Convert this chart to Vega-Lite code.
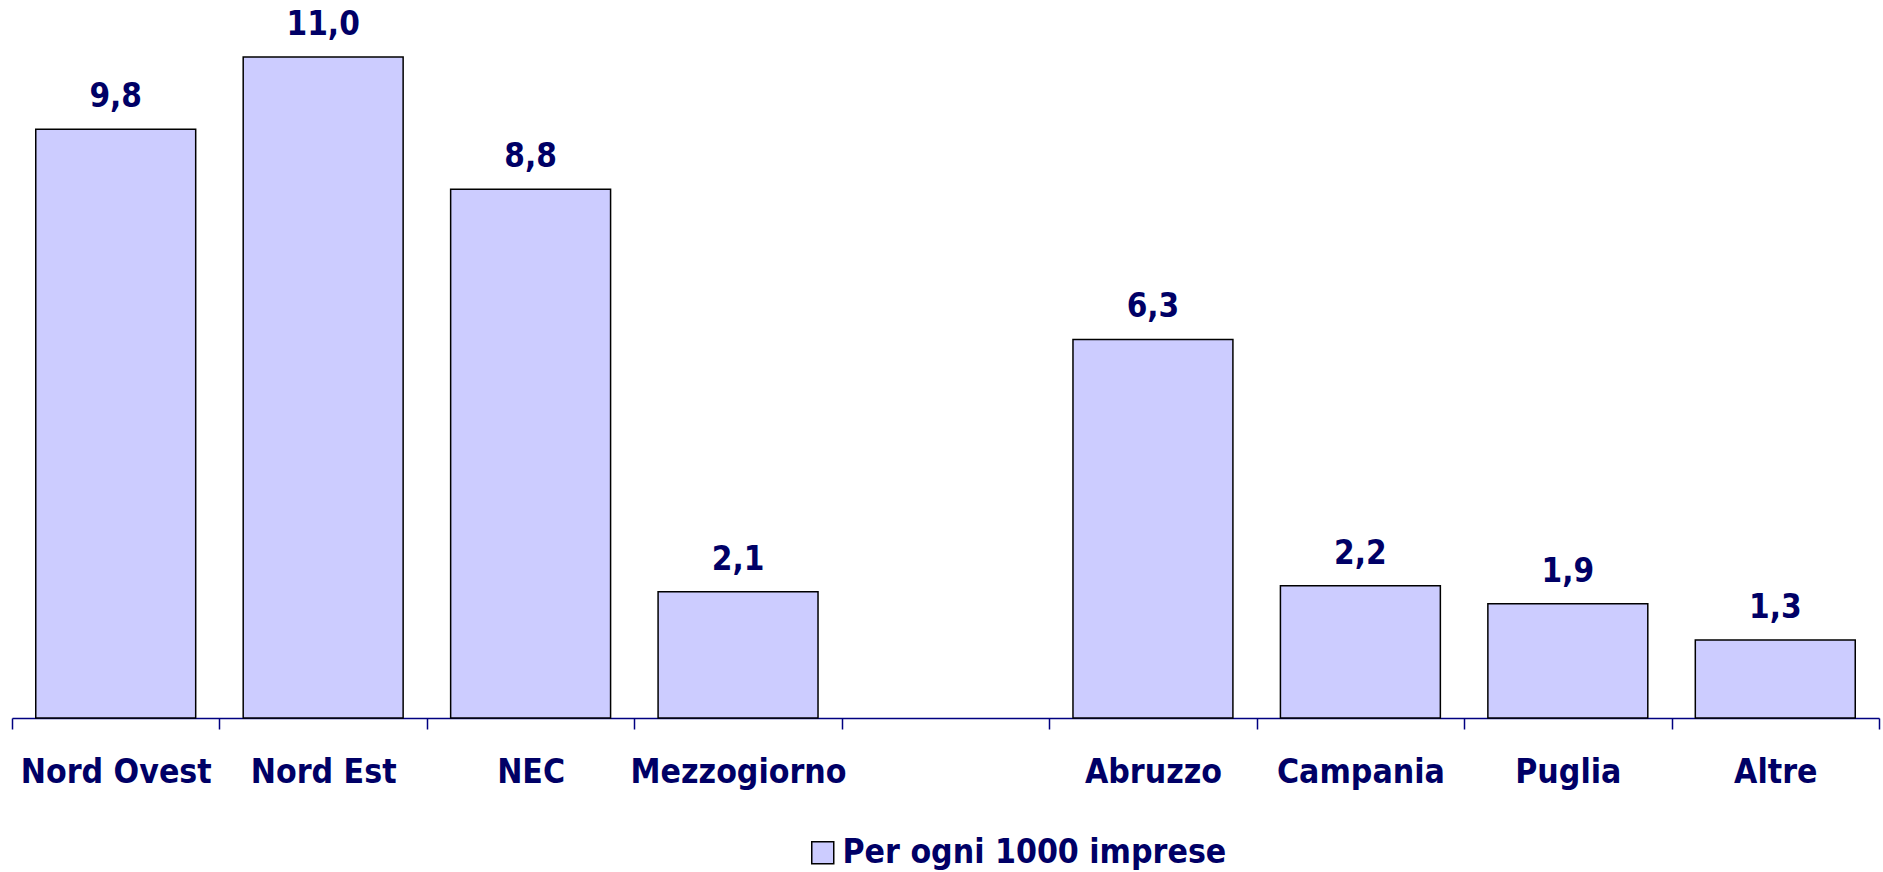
{
  "$schema": "https://vega.github.io/schema/vega-lite/v6.json",
  "width": 1867,
  "height": 718,
  "autosize": {"type": "none"},
  "padding": {"left": 12, "top": 0, "right": 4, "bottom": 154},
  "background": "white",
  "config": {
    "view": {"stroke": null},
    "locale": {"number": {"decimal": ",", "thousands": ".", "grouping": [3], "currency": ["", " €"]}},
    "font": "DejaVu Sans Condensed"
  },
  "data": {
    "values": [
      {"area": "Nord Ovest", "valore": 9.8, "serie": "Per ogni 1000 imprese"},
      {"area": "Nord Est", "valore": 11.0, "serie": "Per ogni 1000 imprese"},
      {"area": "NEC", "valore": 8.8, "serie": "Per ogni 1000 imprese"},
      {"area": "Mezzogiorno", "valore": 2.1, "serie": "Per ogni 1000 imprese"},
      {"area": "Abruzzo", "valore": 6.3, "serie": "Per ogni 1000 imprese"},
      {"area": "Campania", "valore": 2.2, "serie": "Per ogni 1000 imprese"},
      {"area": "Puglia", "valore": 1.9, "serie": "Per ogni 1000 imprese"},
      {"area": "Altre", "valore": 1.3, "serie": "Per ogni 1000 imprese"}
    ]
  },
  "encoding": {
    "x": {
      "field": "area",
      "type": "nominal",
      "sort": null,
      "scale": {
        "domain": ["Nord Ovest", "Nord Est", "NEC", "Mezzogiorno", " ", "Abruzzo", "Campania", "Puglia", "Altre"],
        "paddingInner": 0,
        "paddingOuter": 0
      },
      "axis": {
        "title": null,
        "labelAngle": 0,
        "labelFont": "DejaVu Sans Condensed",
        "labelFontSize": 33.5,
        "labelFontWeight": "bold",
        "labelColor": "#000066",
        "labelBaseline": "alphabetic",
        "labelPadding": 53,
        "labelLimit": 0,
        "tickBand": "extent",
        "tickSize": 11,
        "tickColor": "#000080",
        "tickWidth": 1.5,
        "domainColor": "#000080",
        "domainWidth": 1.5,
        "grid": false
      }
    },
    "y": {
      "field": "valore",
      "type": "quantitative",
      "scale": {"domain": [0, 11.95], "nice": false, "zero": true},
      "axis": null
    }
  },
  "layer": [
    {
      "mark": {"type": "bar", "stroke": "black", "strokeWidth": 1.5, "width": {"band": 0.771}},
      "encoding": {
        "color": {
          "field": "serie",
          "type": "nominal",
          "scale": {"range": ["#CCCCFF"]},
          "legend": {
            "title": null,
            "orient": "none",
            "legendX": 794,
            "legendY": 836,
            "symbolType": "square",
            "symbolSize": 484,
            "symbolStrokeColor": "black",
            "symbolStrokeWidth": 1.5,
            "symbolFillColor": "#CCCCFF",
            "labelFont": "DejaVu Sans Condensed",
            "labelFontSize": 33.5,
            "labelFontWeight": "bold",
            "labelColor": "#000066",
            "labelOffset": 3,
            "labelLimit": 600
          }
        }
      }
    },
    {
      "mark": {
        "type": "text",
        "baseline": "alphabetic",
        "dy": -22,
        "font": "DejaVu Sans Condensed",
        "fontSize": 33,
        "fontWeight": "bold",
        "color": "#000066"
      },
      "encoding": {
        "text": {"field": "valore", "type": "quantitative", "format": ".1f"}
      }
    }
  ]
}
